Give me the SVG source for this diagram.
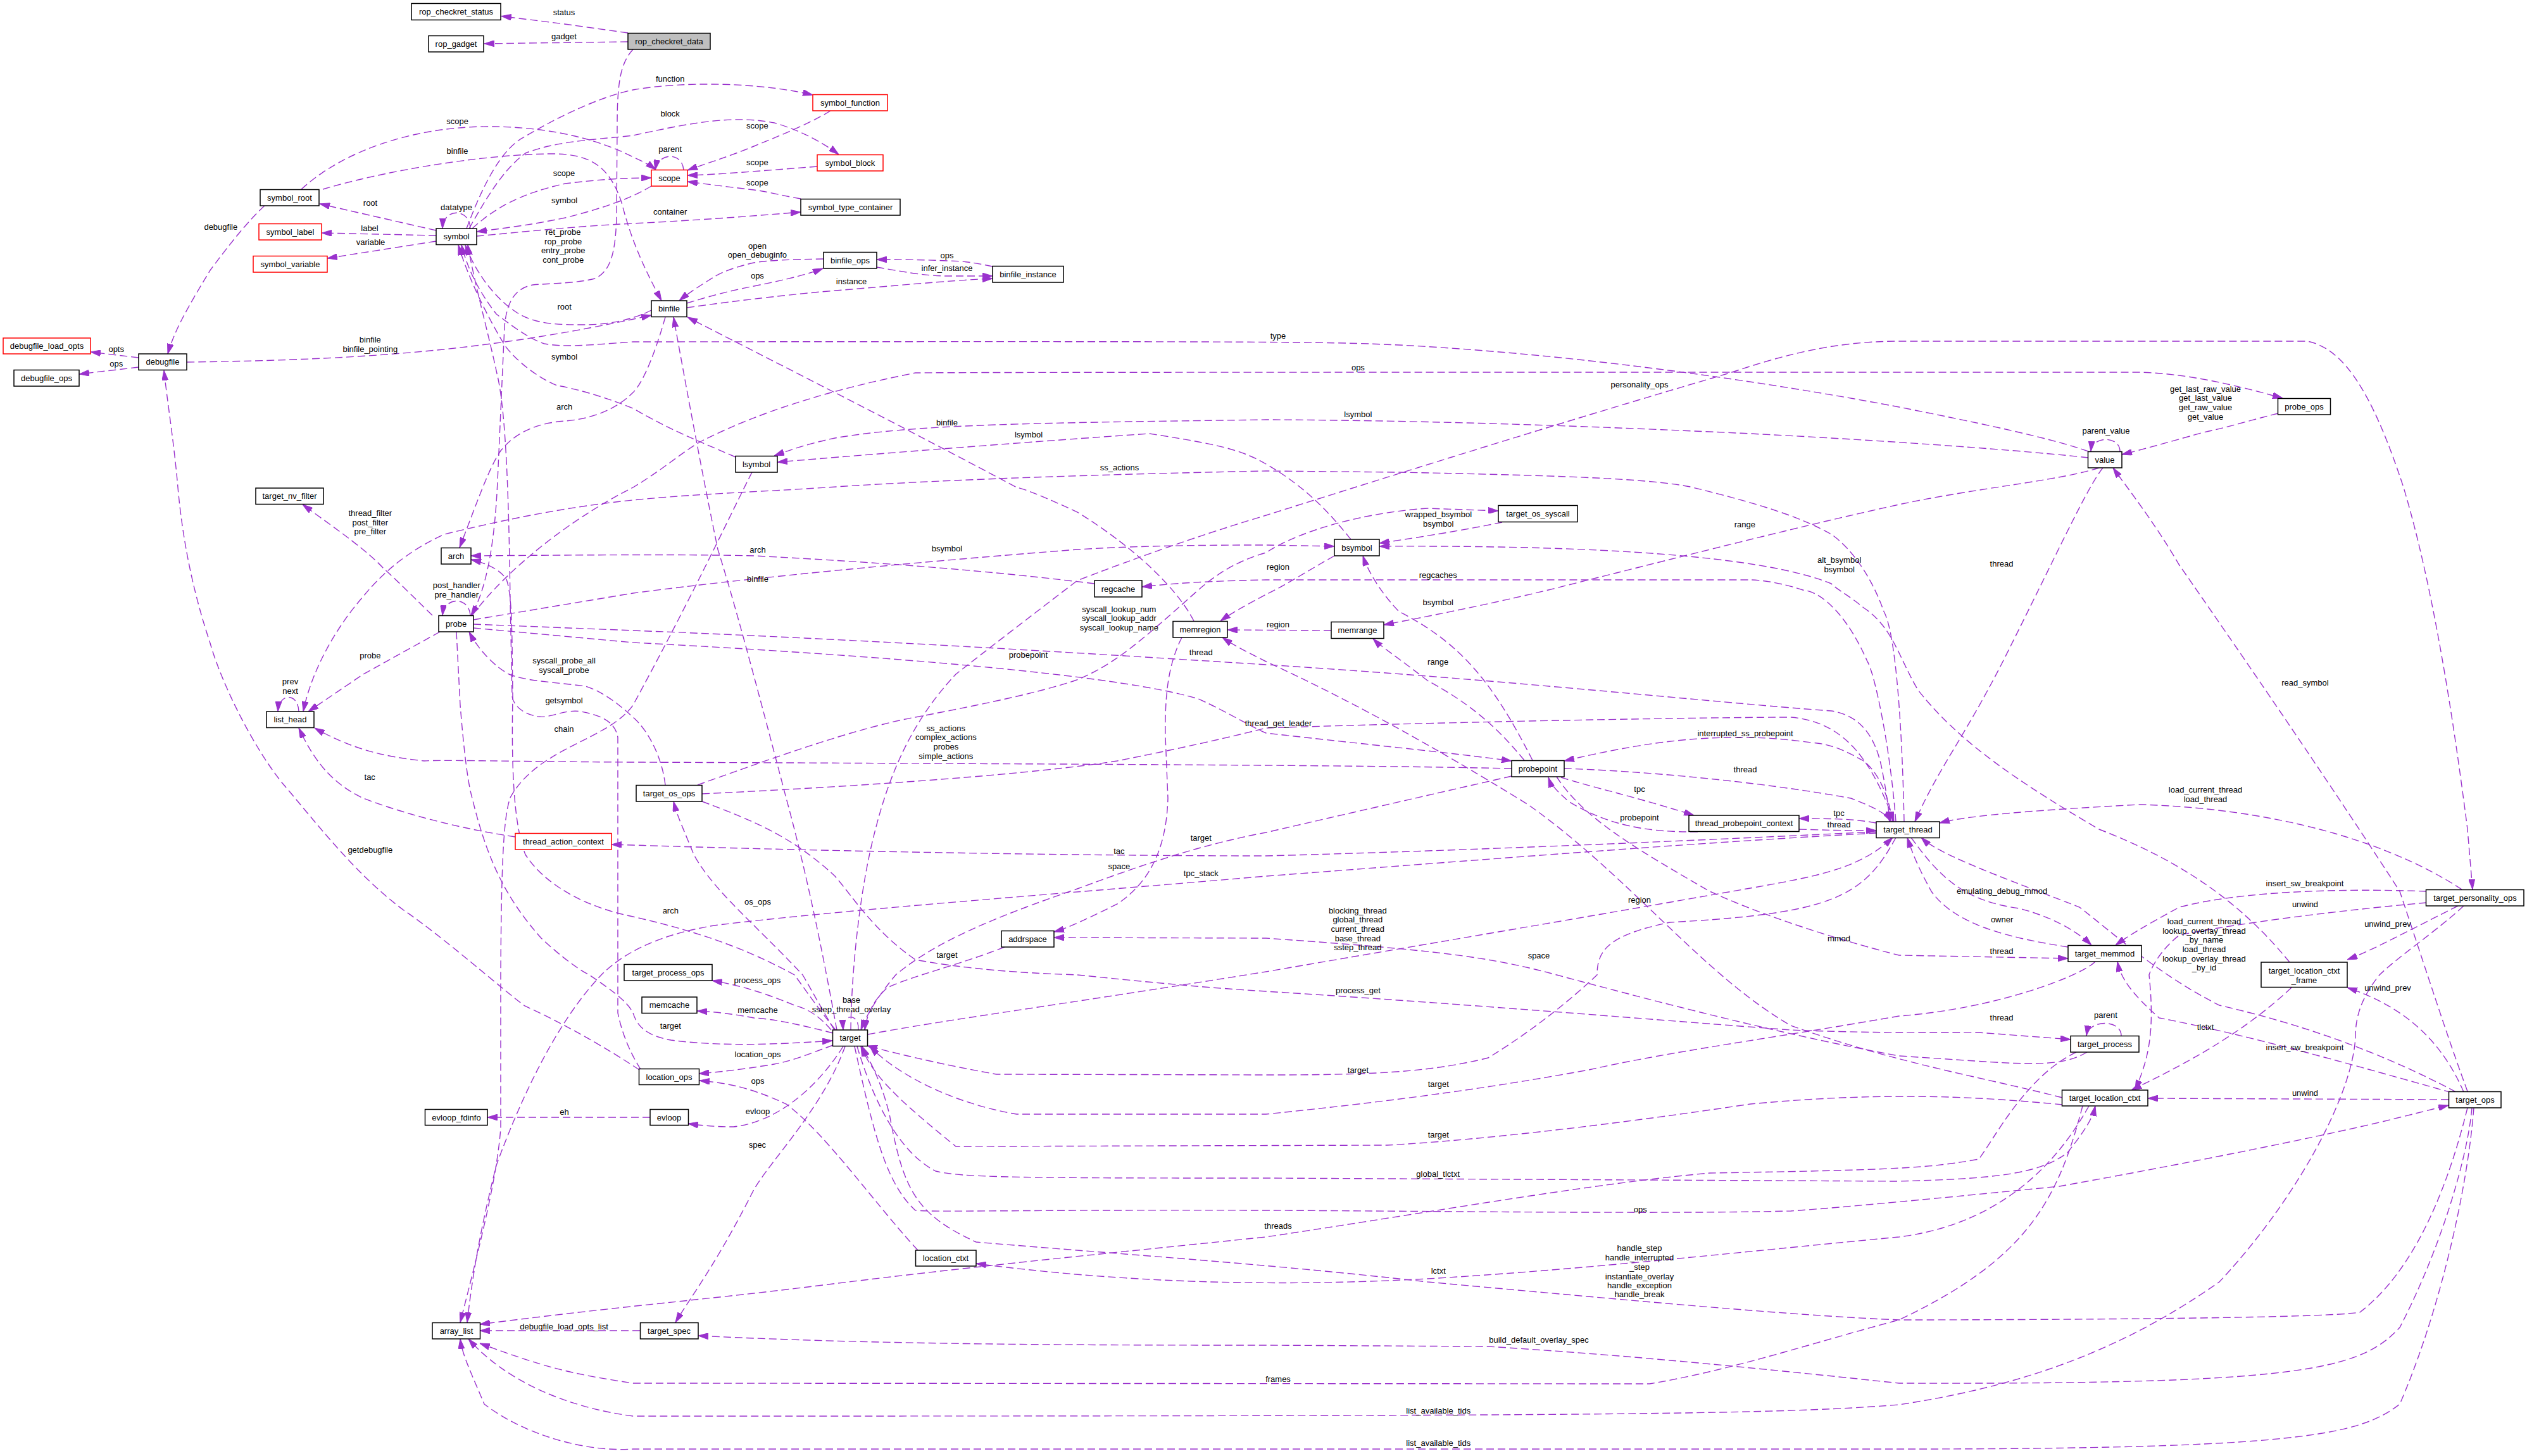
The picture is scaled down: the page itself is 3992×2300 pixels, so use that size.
<svg xmlns="http://www.w3.org/2000/svg" width="3992" height="2300" viewBox="0 0 3992 2300">
<style>
.n rect{fill:#fff;stroke:#000;stroke-width:1.5}
.n.r rect{stroke:#f00}
.n.g rect{fill:#bfbfbf}
text{font-family:"Liberation Sans",Arial,sans-serif;font-size:13px;text-anchor:middle;fill:#000}
.e path{fill:none;stroke:#9a32cd;stroke-width:1.4;stroke-dasharray:12 6;marker-end:url(#a)}
</style>
<defs>
<marker id="a" viewBox="0 0 16 10" refX="16" refY="5" markerWidth="16" markerHeight="10" markerUnits="userSpaceOnUse" orient="auto"><path d="M0,0 L16,5 L0,10 z" fill="#9a32cd" stroke="#9a32cd" stroke-width="1"/></marker>
</defs>
<rect width="3992" height="2300" fill="#fff"/>
<g id="edges" class="e">
<path d="M992,52 L892,38 L792,25.5"/>
<path d="M992,66 L765,69"/>
<path d="M1000,78 C980,100 975,130 975,200 L974,344 C972,400 965,428 940,440 C910,448 860,448 842,450 C812,455 800,480 797,516 L786,760 C782,850 770,930 744,972"/>
<path d="M737,361 C760,300 790,235 829,216 C880,185 950,152 1000,142 C1080,128 1200,130 1284,150"/>
<path d="M741,361 C770,310 795,268 830,242 C880,222 950,220 1000,214 C1100,192 1160,182 1223,194 C1262,205 1300,225 1325,244"/>
<path d="M476,299 C540,240 650,200 772,200 C880,200 955,225 1000,248 C1018,256 1028,262 1036,268"/>
<path d="M510,299 C600,272 750,245 867,243 C930,242 962,260 982,320 C995,370 1010,410 1045,475"/>
<path d="M746,361 C780,330 820,306 893,290 C950,283 990,281 1029,281"/>
<path d="M1029,294 C1010,305 980,322 893,344 C840,355 800,360 753,366"/>
<path d="M753,373 C820,367 900,358 1000,353 C1100,348 1180,342 1265,335"/>
<path d="M1312,175 C1280,195 1230,215 1191,231 C1150,248 1110,260 1086,269"/>
<path d="M1080,268.5 C1078,240 1040,240 1035,268.5"/>
<path d="M1291,263 C1200,270 1130,276 1086,277"/>
<path d="M1265,314 C1230,308 1210,302 1191,300 C1140,294 1110,290 1086,287"/>
<path d="M1301,409 C1250,410 1215,411 1191,415 C1160,422 1140,430 1127,438 C1100,455 1085,465 1073,475"/>
<path d="M1085,479 C1130,465 1160,458 1191,452 C1250,440 1280,432 1300,424"/>
<path d="M1085,486 C1200,470 1290,461 1345,457 C1450,448 1520,442 1568,440"/>
<path d="M1568,421 C1540,415 1520,412 1496,412 C1450,410 1420,410 1385,410"/>
<path d="M1385,422 C1420,428 1460,436 1496,436 L1568,436"/>
<path d="M689,364 L505,322"/>
<path d="M689,372 L508,368"/>
<path d="M689,381 L517,408"/>
<path d="M743,361 C742,328 700,328 699,361"/>
<path d="M418,325 C390,350 352,400 332,427 C300,480 276,520 265,559"/>
<path d="M219,565 L143,556"/>
<path d="M219,580 L125,591"/>
<path d="M295,572 C450,570 574,565 700,552 C850,536 950,515 1029,498"/>
<path d="M1029,490 C1000,505 960,513 925,513 C880,513 848,512 820,496 C790,478 755,440 735,387"/>
<path d="M3299,713 C3240,692 3126,668 3000,643 C2800,605 2500,560 2210,545 C2100,540 2050,539 1000,540 C930,545 893,549 860,543 C835,535 805,512 784,496 C760,465 740,430 729,387"/>
<path d="M1162,722 C1100,695 1060,680 1000,645 C950,625 905,613 880,609 C850,597 815,570 797,545 C770,500 740,440 724,387"/>
<path d="M1051,501 C1040,540 1020,600 1000,620 C970,650 930,662 893,665 C850,668 815,682 791,712 C772,740 755,790 726,865"/>
<path d="M1012,1689 C1000,1670 984,1640 976,1600 L976,1165 C972,1140 950,1130 918,1124 C890,1120 870,1135 850,1132 C822,1127 811,1112 809,1100 L806,950 C804,800 800,650 785,590 C770,520 750,450 739,387"/>
<path d="M1188,746 C1160,800 1100,930 1000,1114 C960,1170 850,1180 806,1260 C796,1290 792,1350 791,1540 L791,1782 C785,1860 760,1960 727,2089"/>
<path d="M2964,1316 C2700,1330 2446,1350 2000,1384 C1700,1410 1319,1438 1128,1462 C1050,1475 990,1500 950,1540 C880,1613 823,1734 784,1841 C762,1930 748,2000 738,2089"/>
<path d="M695,998 L574,1065 L487,1124"/>
<path d="M472,1124 C471,1094 441,1094 439,1124"/>
<path d="M3008,1298 C3005,1150 2995,1000 2976,966 C2960,920 2930,870 2893,844 C2850,820 2797,800 2670,769 C2600,755 2446,751 2210,746 L2000,744 C1800,748 1510,756 1306,770 C1200,777 1100,780 1000,790 C900,800 800,820 702,844 C640,872 600,910 574,942 C530,992 492,1060 479,1124"/>
<path d="M814,1322 C700,1305 610,1275 574,1261 C530,1240 500,1210 472,1150"/>
<path d="M2388,1214 C2200,1210 2000,1208 1000,1204 C800,1203 700,1200 670,1202 C600,1195 550,1180 497,1150"/>
<path d="M1010,1690 C950,1650 880,1612 829,1589 C790,1560 700,1480 638,1438 C560,1380 500,1300 446,1237 C400,1180 350,1080 332,1016 C310,950 290,870 281,770 C275,700 265,640 259,585"/>
<path d="M683,972 C650,940 620,910 606,898 C580,870 540,842 478,797"/>
<path d="M743,972 C741,942 702,942 699,972"/>
<path d="M746,972 C800,900 900,820 1000,770 C1050,740 1080,712 1108,697 C1200,650 1318,614 1446,589 C1600,588 2000,588 3380,588 C3450,590 3520,605 3606,629"/>
<path d="M1051,1240 C1045,1190 1020,1150 1000,1133 C970,1105 945,1090 925,1084 C880,1078 830,1076 804,1065 C780,1052 755,1025 741,998"/>
<path d="M721,998 L727,1114 C734,1200 740,1240 746,1261 C770,1360 800,1420 855,1482 C890,1515 920,1535 931,1540 C960,1560 990,1580 1000,1600 C1006,1620 1020,1636 1060,1643 C1150,1655 1250,1648 1315,1644"/>
<path d="M748,979 L1000,937 C1191,912 1446,888 1702,868 C1800,862 1900,861 2000,861 L2108,863"/>
<path d="M748,986 L1000,996 C1383,1011 1765,1035 2000,1050 C2383,1074 2700,1109 2893,1123 C2940,1130 2962,1165 2972,1210 C2980,1250 2984,1280 2985,1298"/>
<path d="M748,992 L1000,1015 C1383,1035 1765,1065 1893,1104 C1940,1125 1970,1145 2000,1158 C2150,1175 2300,1190 2388,1202"/>
<path d="M1729,922 C1550,900 1383,888 1191,878 C1100,876 1000,876 744,878"/>
<path d="M1320,1627 C1290,1590 1270,1560 1255,1540 C1200,1510 1128,1477 1000,1448 C925,1433 861,1398 830,1350 C810,1300 808,1200 810,1100 L809,1015 C808,960 806,932 800,915 C790,900 770,890 744,884"/>
<path d="M1322,1627 C1306,1540 1280,1400 1242,1261 C1200,1100 1160,950 1134,868 C1120,800 1100,700 1064,501"/>
<path d="M1886,981 C1861,932 1797,868 1702,809 C1650,785 1618,772 1606,770 C1400,660 1200,560 1086,501"/>
<path d="M3299,723 C3200,712 3000,697 2765,685 C2510,673 2255,664 2000,663 C1638,668 1446,670 1319,692 C1280,700 1250,710 1223,720"/>
<path d="M2134,852 C2100,810 2064,770 2000,733 C1960,710 1925,702 1816,685 C1638,697 1383,717 1228,730"/>
<path d="M1344,1627 C1345,1540 1357,1408 1383,1310 C1408,1212 1446,1133 1510,1065 C1574,1015 1638,966 1702,917 C1829,868 1930,835 2000,814 C2140,770 2446,673 2733,589 C2820,560 2899,539 3000,539 L3645,539 C3700,550 3746,614 3797,770 C3841,917 3873,1114 3898,1310 L3906,1405"/>
<path d="M3316,739 C3250,760 3126,770 3000,797 C2850,830 2701,868 2446,932 C2350,955 2250,975 2186,987"/>
<path d="M3322,739 C3297,770 3253,868 3164,1045 C3100,1170 3063,1212 3025,1298"/>
<path d="M3898,1724 C3866,1637 3835,1540 3791,1408 C3696,1261 3569,1074 3443,893 C3400,820 3360,770 3338,739"/>
<path d="M3599,653 C3550,665 3520,675 3481,683 C3420,700 3385,710 3352,718"/>
<path d="M3349,713 C3349,688 3305,688 3303,713"/>
<path d="M1102,1240 C1200,1205 1350,1150 1446,1133 C1540,1115 1640,1095 1701,1074 C1760,1050 1800,1015 1893,932 C1930,900 1960,885 2000,873 C2050,840 2150,810 2255,803 L2367,807"/>
<path d="M2373,825 C2300,840 2220,852 2179,858"/>
<path d="M2108,878 C2060,905 2030,925 2000,939 C1980,950 1950,965 1928,981"/>
<path d="M2103,996 L1939,995"/>
<path d="M2995,1298 C2985,1170 2960,1060 2950,1045 C2920,976 2880,935 2848,932 C2800,916 2765,916 2765,916 L2000,916 C1900,918 1850,922 1804,927"/>
<path d="M3617,1520 C3538,1423 3443,1359 3316,1310 C3190,1236 3095,1173 3030,1090 C3000,1040 2990,990 2944,960 C2920,940 2900,930 2893,922 C2797,883 2574,861 2179,863"/>
<path d="M2421,1201 C2357,1075 2306,1015 2210,966 C2180,935 2160,900 2153,878"/>
<path d="M2408,1201 C2350,1130 2300,1100 2255,1075 C2210,1040 2180,1020 2169,1009"/>
<path d="M2990,1298 C2980,1240 2960,1215 2944,1202 C2910,1183 2890,1175 2861,1173 C2800,1165 2780,1165 2733,1165 C2650,1166 2574,1178 2471,1202"/>
<path d="M2471,1214 C2574,1217 2765,1232 2924,1261 C2960,1275 2980,1285 2988,1298"/>
<path d="M2466,1228 C2520,1245 2574,1256 2676,1288"/>
<path d="M2682,1314 C2606,1315 2542,1305 2478,1266 C2460,1250 2450,1240 2446,1228"/>
<path d="M2964,1300 C2930,1294 2905,1293 2842,1293"/>
<path d="M2842,1310 C2905,1312 2930,1312 2964,1312"/>
<path d="M2964,1314 C2893,1317 2446,1340 2000,1352 C1765,1352 1383,1347 1000,1335 L966,1334"/>
<path d="M1109,1254 C1383,1241 1638,1222 1765,1202 C1900,1175 1960,1160 2000,1150 C2300,1140 2700,1133 2830,1133 C2900,1140 2950,1180 2992,1298"/>
<path d="M2388,1226 C2191,1271 2000,1315 2000,1315 C1893,1335 1797,1369 1702,1404 C1574,1448 1478,1487 1415,1540 C1390,1570 1370,1600 1360,1627"/>
<path d="M1867,1007 C1845,1050 1840,1100 1841,1163 L1845,1261 C1843,1330 1823,1389 1765,1428 C1720,1450 1690,1465 1665,1472"/>
<path d="M1587,1496 C1510,1526 1446,1540 1402,1560 C1380,1580 1370,1600 1366,1627"/>
<path d="M3297,1662 C3250,1690 3190,1680 3000,1668 C2829,1637 2638,1588 2459,1540 C2350,1510 2255,1500 2000,1482 L1665,1481"/>
<path d="M3258,1734 C3126,1700 3000,1681 2829,1620 C2690,1540 2574,1384 2414,1271 C2255,1173 2128,1104 2000,1045 C1970,1030 1950,1020 1931,1007"/>
<path d="M2459,1227 C2500,1290 2574,1335 2701,1408 C2829,1467 3000,1509 3000,1509 L3267,1514"/>
<path d="M3019,1323 C3063,1384 3101,1423 3190,1435 C3240,1448 3280,1470 3304,1493"/>
<path d="M3267,1496 C3177,1482 3089,1462 3051,1408 C3030,1370 3020,1345 3013,1323"/>
<path d="M3833,1408 C3696,1403 3538,1408 3443,1433 C3380,1467 3360,1480 3342,1493"/>
<path d="M3833,1426 C3696,1438 3538,1458 3443,1477 C3405,1507 3395,1540 3395,1540 C3405,1637 3392,1676 3373,1722"/>
<path d="M3883,1431 C3791,1477 3750,1500 3708,1516"/>
<path d="M3889,1405 C3759,1320 3569,1276 3380,1271 C3190,1281 3100,1290 3064,1300"/>
<path d="M3880,1725 C3759,1661 3633,1617 3506,1588 C3411,1540 3348,1482 3285,1433 C3158,1384 3063,1350 3035,1323"/>
<path d="M3620,1560 C3538,1637 3443,1685 3367,1722"/>
<path d="M3892,1725 C3854,1637 3791,1588 3708,1560"/>
<path d="M3873,1726 C3696,1676 3538,1632 3411,1608 C3367,1569 3350,1545 3345,1519"/>
<path d="M3868,1737 L3393,1735"/>
<path d="M3351,1636 C3351,1610 3300,1610 3296,1636"/>
<path d="M1109,1266 C1200,1300 1255,1325 1319,1384 C1350,1420 1380,1470 1446,1516 C1550,1535 1650,1538 1702,1540 C1800,1550 1900,1560 2000,1566 C2319,1586 2638,1613 2829,1627 C2900,1630 3000,1632 3126,1631 L3271,1642"/>
<path d="M2995,1323 C2944,1418 2893,1443 2638,1457 C2542,1477 2523,1500 2523,1540 C2510,1552 2446,1613 2351,1671 C2255,1695 2159,1698 2000,1698 L1574,1697 C1478,1680 1400,1660 1370,1652"/>
<path d="M1371,1634 C1500,1610 1638,1593 2000,1535 C2191,1502 2510,1448 2765,1403 C2880,1383 2940,1370 2990,1323"/>
<path d="M3310,1519 C3290,1540 3158,1593 3000,1605 C2800,1640 2638,1661 2510,1690 C2400,1710 2255,1734 2000,1760 L1606,1760 C1510,1744 1420,1700 1374,1653"/>
<path d="M3258,1745 C3150,1735 3000,1722 2765,1744 C2510,1782 2319,1802 2191,1809 L1510,1811 C1415,1734 1380,1700 1360,1653"/>
<path d="M1354,1653 C1380,1740 1420,1820 1478,1850 C1520,1860 1600,1861 2000,1861 L3000,1866 C3150,1862 3221,1855 3266,1821 C3290,1790 3305,1770 3310,1747"/>
<path d="M1350,1653 C1380,1790 1400,1870 1446,1912 C1480,1915 1600,1911 2000,1912 C2255,1913 2638,1918 2829,1913 C2900,1908 3000,1899 3253,1874 C3443,1840 3633,1802 3759,1773 L3868,1746"/>
<path d="M3898,1750 C3854,1928 3791,2025 3728,2073 C3658,2085 3000,2085 3000,2085 C2829,2078 2574,2054 2255,2025 C2000,1996 1765,1981 1542,1962 C1446,1918 1427,1879 1405,1760 C1390,1700 1370,1670 1362,1653"/>
<path d="M3300,1747 C3270,1800 3190,1930 3000,1954 C2765,1976 2510,2005 2255,2020 C2000,2034 1765,2025 1542,1996"/>
<path d="M3280,1662 C3200,1700 3150,1800 3126,1831 C3050,1845 3000,1848 2701,1853 C2510,1870 2255,1916 2000,1954 C1700,1985 1542,2000 1300,2030 C1100,2055 1000,2061 758,2092"/>
<path d="M3290,1747 C3250,1900 3200,1990 3000,2085 C2861,2122 2733,2165 2606,2186 L1000,2185 C900,2170 861,2160 758,2122"/>
<path d="M3905,1750 C3898,1831 3854,1976 3791,2097 C3728,2165 3633,2187 3000,2185 C2765,2160 2574,2141 2351,2127 L2000,2125 C1700,2125 1383,2124 1103,2110"/>
<path d="M3892,1431 C3850,1470 3790,1510 3759,1540 C3735,1570 3721,1600 3721,1637 C3718,1724 3633,1889 3506,2025 C3348,2136 3190,2190 3000,2219 C2800,2235 2500,2237 1000,2237 C893,2223 797,2180 740,2115"/>
<path d="M3908,1750 C3898,1879 3854,2073 3791,2218 C3728,2267 3633,2289 3000,2289 L1000,2289 C925,2294 829,2267 765,2218 C745,2170 730,2140 727,2115"/>
<path d="M1011,2102 L758,2102"/>
<path d="M1450,1975 C1383,1903 1306,1792 1242,1744 C1180,1715 1140,1710 1105,1707"/>
<path d="M1027,1765 L770,1765"/>
<path d="M1332,1653 C1287,1724 1223,1773 1159,1780 C1130,1780 1110,1778 1087,1775"/>
<path d="M1335,1653 C1300,1750 1220,1830 1191,1879 C1130,2000 1090,2050 1067,2089"/>
<path d="M1316,1632 C1250,1615 1220,1610 1191,1608 C1150,1600 1120,1598 1101,1597"/>
<path d="M1313,1627 C1290,1600 1270,1592 1255,1588 C1200,1565 1160,1555 1125,1549"/>
<path d="M1316,1651 C1270,1668 1250,1676 1223,1681 C1170,1690 1130,1694 1104,1696"/>
<path d="M1318,1627 C1290,1580 1280,1560 1268,1540 C1191,1458 1128,1408 1096,1350 C1080,1310 1070,1290 1064,1266"/>
<path d="M1356,1627 C1358,1600 1330,1600 1332,1627"/>
</g>
<g id="edge-labels">
<text x="891" y="24">status</text>
<text x="891" y="61.5">gadget</text>
<text x="722.6" y="196">scope</text>
<text x="722.6" y="243">binfile</text>
<text x="585" y="324.5">root</text>
<text x="721" y="332">datatype</text>
<text x="584" y="364.5">label</text>
<text x="585.5" y="387">variable</text>
<text x="348.8" y="363">debugfile</text>
<text x="891" y="277.5">scope</text>
<text x="891.6" y="321">symbol</text>
<text x="889.7" y="371.3">ret_probe</text>
<text x="889.7" y="385.5">rop_probe</text>
<text x="889.7" y="400.3">entry_probe</text>
<text x="889.7" y="415">cont_probe</text>
<text x="891.6" y="489">root</text>
<text x="584.8" y="540.7">binfile</text>
<text x="584.8" y="556">binfile_pointing</text>
<text x="183.7" y="556">opts</text>
<text x="183.7" y="579">ops</text>
<text x="891.6" y="568">symbol</text>
<text x="891.6" y="646.8">arch</text>
<text x="1058.7" y="128.7">function</text>
<text x="1058.7" y="183.7">block</text>
<text x="1196.4" y="203.4">scope</text>
<text x="1058.7" y="240.2">parent</text>
<text x="1196.4" y="261.3">scope</text>
<text x="1196.4" y="292.8">scope</text>
<text x="1058.7" y="338.9">container</text>
<text x="1196.4" y="392.5">open</text>
<text x="1196.4" y="407.2">open_debuginfo</text>
<text x="1196.4" y="439.5">ops</text>
<text x="1496" y="407.7">ops</text>
<text x="1496" y="427.8">infer_instance</text>
<text x="1345" y="448.9">instance</text>
<text x="1496" y="672.3">binfile</text>
<text x="1625" y="690.5">lsymbol</text>
<text x="1768.5" y="742.5">ss_actions</text>
<text x="2019" y="534.8">type</text>
<text x="2145.4" y="584.9">ops</text>
<text x="2590" y="611.9">personality_ops</text>
<text x="2145.4" y="659.1">lsymbol</text>
<text x="3484" y="618.8">get_last_raw_value</text>
<text x="3484" y="633.1">get_last_value</text>
<text x="3484" y="647.8">get_raw_value</text>
<text x="3484" y="662.5">get_value</text>
<text x="3327" y="685.1">parent_value</text>
<text x="584.8" y="814.8">thread_filter</text>
<text x="584.8" y="829.5">post_filter</text>
<text x="584.8" y="844.2">pre_filter</text>
<text x="721.3" y="929.2">post_handler</text>
<text x="721.3" y="943.9">pre_handler</text>
<text x="584.8" y="1039.7">probe</text>
<text x="458.5" y="1081.4">prev</text>
<text x="458.5" y="1096.1">next</text>
<text x="891" y="1048">syscall_probe_all</text>
<text x="891" y="1063.2">syscall_probe</text>
<text x="891" y="1111.4">getsymbol</text>
<text x="891" y="1156.1">chain</text>
<text x="584.2" y="1232.2">tac</text>
<text x="584.8" y="1347.1">getdebugfile</text>
<text x="1197" y="872.7">arch</text>
<text x="1496" y="870.7">bsymbol</text>
<text x="1197" y="918.9">binfile</text>
<text x="1767.9" y="967">syscall_lookup_num</text>
<text x="1767.9" y="981.2">syscall_lookup_addr</text>
<text x="1767.9" y="996">syscall_lookup_name</text>
<text x="1897.3" y="1034.8">thread</text>
<text x="1624.4" y="1039.2">probepoint</text>
<text x="1494.3" y="1155.1">ss_actions</text>
<text x="1494.3" y="1169.3">complex_actions</text>
<text x="1494.3" y="1184">probes</text>
<text x="1494.3" y="1198.8">simple_actions</text>
<text x="2019.5" y="1146.7">thread_get_leader</text>
<text x="1897.3" y="1327.9">target</text>
<text x="1767.9" y="1349">tac</text>
<text x="1767.9" y="1372.6">space</text>
<text x="1897.3" y="1383.9">tpc_stack</text>
<text x="1197" y="1429.1">os_ops</text>
<text x="1059.3" y="1442.8">arch</text>
<text x="1496" y="1513">target</text>
<text x="2272.3" y="817.2">wrapped_bsymbol</text>
<text x="2272.3" y="832">bsymbol</text>
<text x="2756.4" y="832.5">range</text>
<text x="2019" y="900.2">region</text>
<text x="2271.7" y="912.5">regcaches</text>
<text x="2905.6" y="888.9">alt_bsymbol</text>
<text x="2905.6" y="904.1">bsymbol</text>
<text x="2271.7" y="956.2">bsymbol</text>
<text x="2019" y="991.1">region</text>
<text x="2271.7" y="1049.5">range</text>
<text x="2757" y="1162.9">interrupted_ss_probepoint</text>
<text x="2757" y="1219.9">thread</text>
<text x="2590" y="1250.8">tpc</text>
<text x="2905" y="1289.1">tpc</text>
<text x="2905" y="1307.3">thread</text>
<text x="2590" y="1296">probepoint</text>
<text x="2590" y="1425.6">region</text>
<text x="2144.8" y="1442.8">blocking_thread</text>
<text x="2144.8" y="1457.1">global_thread</text>
<text x="2144.8" y="1471.8">current_thread</text>
<text x="2144.8" y="1486.5">base_thread</text>
<text x="2144.8" y="1501.3">sstep_thread</text>
<text x="2905" y="1487">mmod</text>
<text x="2431" y="1513.5">space</text>
<text x="3162" y="894.8">thread</text>
<text x="3641.5" y="1082.9">read_symbol</text>
<text x="3484" y="1251.8">load_current_thread</text>
<text x="3484" y="1266.5">load_thread</text>
<text x="3641" y="1400.1">insert_sw_breakpoint</text>
<text x="3162.6" y="1411.9">emulating_debug_mmod</text>
<text x="3641.5" y="1433">unwind</text>
<text x="3162.6" y="1457.1">owner</text>
<text x="3772" y="1463.9">unwind_prev</text>
<text x="3482" y="1460">load_current_thread</text>
<text x="3482" y="1474.8">lookup_overlay_thread</text>
<text x="3482" y="1489">_by_name</text>
<text x="3482" y="1504.2">load_thread</text>
<text x="3482" y="1518.9">lookup_overlay_thread</text>
<text x="3482" y="1533.2">_by_id</text>
<text x="3162" y="1506.7">thread</text>
<text x="1196.4" y="1552.7">process_ops</text>
<text x="1345" y="1584.2">base</text>
<text x="1345" y="1599.3">sstep_thread_overlay</text>
<text x="1197" y="1600.2">memcache</text>
<text x="1059.3" y="1624.5">target</text>
<text x="1197" y="1669.5">location_ops</text>
<text x="1197" y="1711.7">ops</text>
<text x="1197" y="1760.2">evloop</text>
<text x="1196.4" y="1812.5">spec</text>
<text x="891.6" y="1761.2">eh</text>
<text x="891" y="2099.5">debugfile_load_opts_list</text>
<text x="2145.4" y="1569.2">process_get</text>
<text x="2145.4" y="1695.2">target</text>
<text x="2272.3" y="1716.5">target</text>
<text x="2272.3" y="1797">target</text>
<text x="2271.7" y="1859.1">global_tlctxt</text>
<text x="2591.2" y="1915.3">ops</text>
<text x="2019" y="1941">threads</text>
<text x="2590" y="1975.9">handle_step</text>
<text x="2590" y="1990.9">handle_interrupted</text>
<text x="2590" y="2005.5">_step</text>
<text x="2590" y="2020.5">instantiate_overlay</text>
<text x="2590" y="2035">handle_exception</text>
<text x="2590" y="2049.1">handle_break</text>
<text x="2272.3" y="2011.7">lctxt</text>
<text x="2431" y="2121.3">build_default_overlay_spec</text>
<text x="2019" y="2183.3">frames</text>
<text x="2272.3" y="2232.8">list_available_tids</text>
<text x="2272.3" y="2284.1">list_available_tids</text>
<text x="3162" y="1611.9">thread</text>
<text x="3326.5" y="1608">parent</text>
<text x="3484" y="1626.9">tlctxt</text>
<text x="3641" y="1659.4">insert_sw_breakpoint</text>
<text x="3772" y="1564.9">unwind_prev</text>
<text x="3641.5" y="1731.1">unwind</text>
</g>
<g id="n_rop_checkret_status" class="n"><rect x="650" y="5.5" width="141" height="26"/><text x="720.5" y="23">rop_checkret_status</text></g>
<g id="n_rop_gadget" class="n"><rect x="677" y="56.5" width="87" height="25.5"/><text x="720.5" y="73.5">rop_gadget</text></g>
<g id="n_rop_checkret_data" class="n g"><rect x="992" y="52.5" width="130" height="25.5"/><text x="1057" y="69.5">rop_checkret_data</text></g>
<g id="n_symbol_root" class="n"><rect x="411" y="299.5" width="93" height="25.5"/><text x="457.5" y="316.5">symbol_root</text></g>
<g id="n_symbol_label" class="n r"><rect x="409" y="353.5" width="99" height="25.5"/><text x="458.5" y="370.5">symbol_label</text></g>
<g id="n_symbol_variable" class="n r"><rect x="400" y="404.5" width="117" height="25.5"/><text x="458.5" y="421.5">symbol_variable</text></g>
<g id="n_symbol" class="n"><rect x="689" y="361" width="64" height="25.5"/><text x="721" y="378">symbol</text></g>
<g id="n_debugfile_load_opts" class="n r"><rect x="5" y="534" width="138" height="25"/><text x="74" y="551">debugfile_load_opts</text></g>
<g id="n_debugfile_ops" class="n"><rect x="22" y="584.5" width="103" height="25.5"/><text x="73.5" y="601.5">debugfile_ops</text></g>
<g id="n_debugfile" class="n"><rect x="219" y="559" width="76" height="25.5"/><text x="257" y="576">debugfile</text></g>
<g id="n_symbol_function" class="n r"><rect x="1284" y="149.5" width="118" height="25.5"/><text x="1343" y="166.5">symbol_function</text></g>
<g id="n_scope" class="n r"><rect x="1029" y="268.5" width="57" height="25.5"/><text x="1057.5" y="285.5">scope</text></g>
<g id="n_symbol_block" class="n r"><rect x="1291" y="244.5" width="104" height="25.5"/><text x="1343" y="261.5">symbol_block</text></g>
<g id="n_symbol_type_container" class="n"><rect x="1265" y="314.5" width="157" height="25.5"/><text x="1343.5" y="331.5">symbol_type_container</text></g>
<g id="n_binfile_ops" class="n"><rect x="1301" y="398.5" width="84" height="25.5"/><text x="1343" y="415.5">binfile_ops</text></g>
<g id="n_binfile_instance" class="n"><rect x="1568" y="420.5" width="112" height="25.5"/><text x="1624" y="437.5">binfile_instance</text></g>
<g id="n_binfile" class="n"><rect x="1029" y="475" width="56" height="25.5"/><text x="1057" y="492">binfile</text></g>
<g id="n_lsymbol" class="n"><rect x="1162" y="720.5" width="66" height="25.5"/><text x="1195" y="737.5">lsymbol</text></g>
<g id="n_probe_ops" class="n"><rect x="3598.5" y="629.5" width="83" height="25.5"/><text x="3640" y="646.5">probe_ops</text></g>
<g id="n_value" class="n"><rect x="3298.5" y="713.5" width="53.5" height="25.5"/><text x="3325" y="730.5">value</text></g>
<g id="n_target_nv_filter" class="n"><rect x="404" y="771" width="107" height="25.5"/><text x="457.5" y="788">target_nv_filter</text></g>
<g id="n_arch" class="n"><rect x="697" y="865.5" width="47" height="25.5"/><text x="720.5" y="882.5">arch</text></g>
<g id="n_probe" class="n"><rect x="693" y="972.5" width="55" height="25.5"/><text x="720.5" y="989.5">probe</text></g>
<g id="n_list_head" class="n"><rect x="421" y="1124" width="75" height="25.5"/><text x="458.5" y="1141">list_head</text></g>
<g id="n_thread_action_context" class="n r"><rect x="814" y="1316.5" width="152" height="25.5"/><text x="890" y="1333.5">thread_action_context</text></g>
<g id="n_regcache" class="n"><rect x="1729" y="917" width="75" height="26"/><text x="1766.5" y="934.5">regcache</text></g>
<g id="n_memregion" class="n"><rect x="1853" y="981.5" width="86" height="25.5"/><text x="1896" y="998.5">memregion</text></g>
<g id="n_target_os_ops" class="n"><rect x="1005" y="1240.5" width="104" height="25.5"/><text x="1057" y="1257.5">target_os_ops</text></g>
<g id="n_addrspace" class="n"><rect x="1582" y="1470.5" width="83" height="25.5"/><text x="1623.5" y="1487.5">addrspace</text></g>
<g id="n_target_process_ops" class="n"><rect x="986" y="1523.5" width="139" height="25.5"/><text x="1055.5" y="1540.5">target_process_ops</text></g>
<g id="n_target_os_syscall" class="n"><rect x="2367" y="798.5" width="125" height="26"/><text x="2429.5" y="816">target_os_syscall</text></g>
<g id="n_bsymbol" class="n"><rect x="2108" y="852" width="71" height="26"/><text x="2143.5" y="869.5">bsymbol</text></g>
<g id="n_memrange" class="n"><rect x="2103" y="982.5" width="83" height="26"/><text x="2144.5" y="1000">memrange</text></g>
<g id="n_probepoint" class="n"><rect x="2388" y="1201.5" width="83" height="25.5"/><text x="2429.5" y="1218.5">probepoint</text></g>
<g id="n_thread_probepoint_context" class="n"><rect x="2668" y="1288" width="174" height="25.5"/><text x="2755" y="1305">thread_probepoint_context</text></g>
<g id="n_target_thread" class="n"><rect x="2964" y="1298" width="100" height="25.5"/><text x="3014" y="1315">target_thread</text></g>
<g id="n_target_personality_ops" class="n"><rect x="3832.5" y="1405.5" width="154.5" height="25.5"/><text x="3910" y="1422.5">target_personality_ops</text></g>
<g id="n_target_memmod" class="n"><rect x="3267" y="1493.5" width="116" height="25.5"/><text x="3325" y="1510.5">target_memmod</text></g>
<g id="n_target_location_ctxt_frame" class="n"><rect x="3572" y="1520" width="136" height="39.5"/><text x="3640" y="1537.5">target_location_ctxt</text><text x="3640" y="1552.5">_frame</text></g>
<g id="n_memcache" class="n"><rect x="1014" y="1575" width="87" height="25.5"/><text x="1057.5" y="1592">memcache</text></g>
<g id="n_target" class="n"><rect x="1315.5" y="1627" width="55" height="25.5"/><text x="1343" y="1644">target</text></g>
<g id="n_location_ops" class="n"><rect x="1009.5" y="1688.5" width="95" height="25"/><text x="1057" y="1705.5">location_ops</text></g>
<g id="n_evloop" class="n"><rect x="1027" y="1752.5" width="60.5" height="25"/><text x="1057" y="1769.5">evloop</text></g>
<g id="n_location_ctxt" class="n"><rect x="1446.5" y="1975" width="95.5" height="25"/><text x="1494" y="1992">location_ctxt</text></g>
<g id="n_target_spec" class="n"><rect x="1011.5" y="2089.5" width="91.5" height="25.5"/><text x="1057" y="2106.5">target_spec</text></g>
<g id="n_evloop_fdinfo" class="n"><rect x="671.5" y="1752.5" width="98.5" height="25"/><text x="721" y="1769.5">evloop_fdinfo</text></g>
<g id="n_array_list" class="n"><rect x="683" y="2089.5" width="75.5" height="25.5"/><text x="721" y="2106.5">array_list</text></g>
<g id="n_target_process" class="n"><rect x="3271" y="1636.5" width="108" height="25.5"/><text x="3325" y="1653.5">target_process</text></g>
<g id="n_target_location_ctxt" class="n"><rect x="3257.5" y="1722" width="135.5" height="25"/><text x="3325" y="1739">target_location_ctxt</text></g>
<g id="n_target_ops" class="n"><rect x="3868.5" y="1724.5" width="82.5" height="25.5"/><text x="3910" y="1741.5">target_ops</text></g>
</svg>
